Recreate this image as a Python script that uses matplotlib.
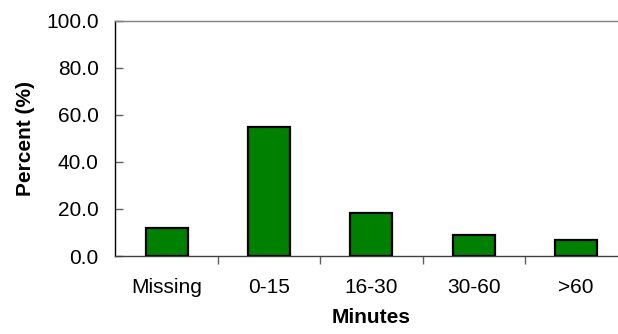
import numpy as np
import matplotlib.pyplot as plt

plt.rcParams['font.family'] = ['Liberation Sans', 'DejaVu Sans']

categories = ['Missing', '0-15', '16-30', '30-60', '>60']
percent = [12.0, 54.8, 18.2, 8.9, 6.8]
yticks = [0, 20, 40, 60, 80, 100]

fig = plt.figure(figsize=(6.18, 3.34), dpi=100)
ax = fig.add_axes([0.1866, 0.2335, 0.8285, 0.7045])

x = np.arange(len(categories))
ax.bar(x, percent, width=0.41, color='#008000', edgecolor='black', linewidth=1.6, zorder=3)

ax.set_xlim(-0.5, len(categories) - 0.5)
ax.set_ylim(0, 100)
ax.set_yticks(yticks)
ax.set_yticklabels(['%.1f' % v for v in yticks], fontsize=15)
ax.set_xticks(x)
ax.set_xticklabels(categories, fontsize=15)
ax.set_xticks(np.arange(len(categories)) + 0.5, minor=True)

ax.tick_params(axis='y', direction='in', length=6, width=1, color='#606060', pad=12)
ax.tick_params(axis='x', which='major', length=0, pad=16)
ax.tick_params(axis='x', which='minor', direction='out', length=6, width=1, color='#606060')

ax.spines['left'].set_color('black')
ax.spines['bottom'].set_color('#404040')
ax.spines['top'].set_color('#808080')
ax.spines['right'].set_visible(False)
for s in ax.spines.values():
    s.set_linewidth(1)

ax.set_xlabel('Minutes', fontsize=15, fontweight='bold', labelpad=8)
ax.set_ylabel('Percent (%)', fontsize=15, fontweight='bold', labelpad=8)

fig.savefig('out.png', dpi=100)
